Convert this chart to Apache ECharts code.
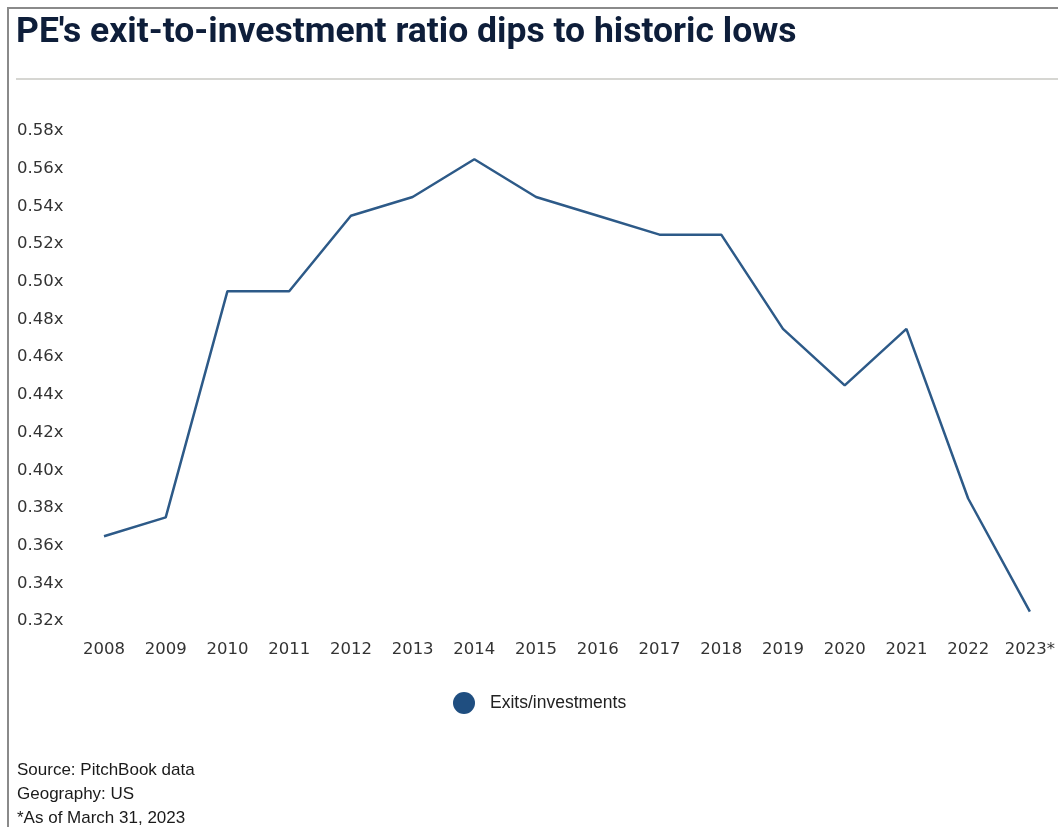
<!DOCTYPE html>
<html>
<head>
<meta charset="utf-8">
<script src="https://cdn.jsdelivr.net/npm/echarts@6/dist/echarts.min.js"></script>
<style>
  html, body { margin: 0; padding: 0; background: #ffffff; }
  #chart { width: 1058px; height: 827px; }
</style>
</head>
<body>
<div id="chart"></div>
<script>
// Years on the category axis
const years = ['2008', '2009', '2010', '2011', '2012', '2013', '2014', '2015',
               '2016', '2017', '2018', '2019', '2020', '2021', '2022', '2023*'];
// Ratio of PE exits to investments
const exitRatio = [0.365, 0.375, 0.495, 0.495, 0.535, 0.545, 0.565, 0.545,
                   0.535, 0.525, 0.525, 0.475, 0.445, 0.475, 0.385, 0.325];
const seriesName = 'Exits/investments';
const titleText = "PE's exit-to-investment ratio dips to historic lows";
const footnotes = ['Source: PitchBook data', 'Geography: US', '*As of March 31, 2023'];

const chart = echarts.init(document.getElementById('chart'), null, { renderer: 'canvas' });

const axisFont = '"DejaVu Sans", "Open Sans", sans-serif';
const bodyFont = '"Liberation Sans", Arial, sans-serif';

chart.setOption({
  animation: false,
  backgroundColor: '#ffffff',
  grid: { left: 104, right: 27, top: 131, bottom: 827 - 621, containLabel: false },
  xAxis: {
    type: 'category',
    data: years,
    boundaryGap: false,
    axisLine: { show: false },
    axisTick: { show: false },
    splitLine: { show: false },
    axisLabel: { color: '#333333', fontFamily: axisFont, fontSize: 16.5, margin: 20, interval: 0 }
  },
  yAxis: {
    type: 'value',
    min: 0.32,
    max: 0.58,
    interval: 0.02,
    axisLine: { show: false },
    axisTick: { show: false },
    splitLine: { show: false },
    axisLabel: {
      color: '#333333', fontFamily: axisFont, fontSize: 16.5, align: 'left', margin: 87,
      padding: [2, 0, 0, 0],
      formatter: v => v.toFixed(2) + 'x'
    }
  },
  legend: {
    left: 453,
    top: 692,
    padding: 0,
    itemWidth: 22,
    itemHeight: 22,
    data: [{ name: seriesName, icon: 'circle' }],
    textStyle: { color: '#222222', fontFamily: bodyFont, fontSize: 17.5, padding: [0, 0, 0, 10] }
  },
  series: [{
    name: seriesName,
    type: 'line',
    data: exitRatio,
    symbol: 'none',
    color: '#1f4e80',
    lineStyle: { color: '#2d5a88', width: 2.5 }
  }],
  graphic: [
    // outer frame: top and left edges
    { type: 'rect', shape: { x: 7, y: 7, width: 1051, height: 2 }, style: { fill: '#8a8a8a' } },
    { type: 'rect', shape: { x: 7, y: 7, width: 2, height: 820 }, style: { fill: '#8a8a8a' } },
    // rule under the heading
    { type: 'rect', shape: { x: 16, y: 78, width: 1042, height: 2 }, style: { fill: '#d6d6d2' } },
    {
      type: 'text', left: 16, top: 15,
      style: {
        text: titleText, fill: '#0e1e3a',
        font: 'bold 35.5px "Roboto", sans-serif'
      }
    },
    ...footnotes.map((t, i) => ({
      type: 'text', left: 17, top: 762 + i * 24,
      style: { text: t, fill: '#1a1a1a', font: '17px ' + bodyFont }
    }))
  ]
});
</script>
</body>
</html>
